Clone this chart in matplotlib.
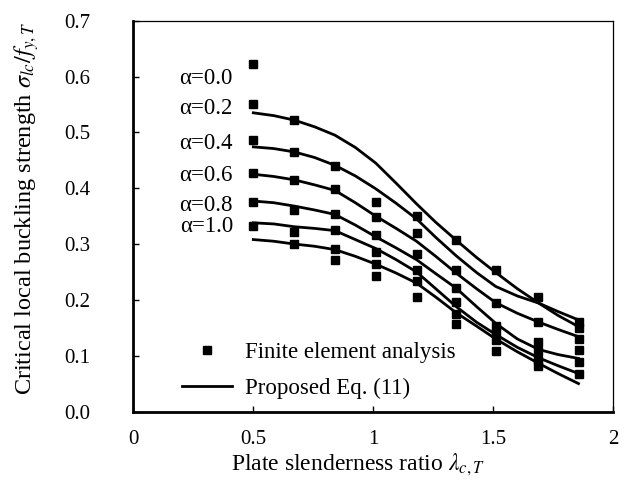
"""Critical local buckling strength vs plate slenderness ratio."""

import matplotlib

matplotlib.use("Agg")
import matplotlib.pyplot as plt

# FEA points (columns = slenderness values, rows sorted top to bottom)
x_fea = [0.50, 0.67, 0.84, 1.01, 1.18, 1.345, 1.51, 1.685, 1.855]
fea_rows = [
    [0.622, 0.522, 0.440, 0.375, 0.350, 0.307, 0.253, 0.205, 0.161],
    [0.551, 0.465, 0.398, 0.348, 0.319, 0.253, 0.194, 0.160, 0.149],
    [0.486, 0.415, 0.354, 0.316, 0.283, 0.222, 0.154, 0.125, 0.130],
    [0.428, 0.361, 0.325, 0.286, 0.253, 0.197, 0.140, 0.108, 0.110],
    [0.375, 0.322, 0.291, 0.265, 0.234, 0.175, 0.128, 0.092, 0.089],
    [0.333, 0.300, 0.271, 0.243, 0.205, 0.157, 0.109, 0.082, 0.067],
]

# Proposed Eq. (11) curves
x_eq = [0.50, 0.585, 0.67, 0.755, 0.84, 0.925, 1.01, 1.095, 1.18,
        1.26, 1.345, 1.43, 1.51, 1.60, 1.69, 1.77, 1.855]
eq_curves = [
    [0.535, 0.530, 0.522, 0.510, 0.495, 0.473, 0.445, 0.409, 0.372,
     0.339, 0.307, 0.276, 0.249, 0.220, 0.194, 0.172, 0.152],
    [0.474, 0.471, 0.465, 0.455, 0.441, 0.422, 0.399, 0.373, 0.345,
     0.312, 0.279, 0.249, 0.224, 0.207, 0.194, 0.179, 0.164],
    [0.425, 0.421, 0.415, 0.406, 0.396, 0.374, 0.350, 0.328, 0.305,
     0.278, 0.248, 0.220, 0.195, 0.176, 0.160, 0.147, 0.134],
    [0.377, 0.374, 0.368, 0.361, 0.353, 0.334, 0.313, 0.293, 0.272,
     0.247, 0.221, 0.188, 0.158, 0.130, 0.111, 0.102, 0.095],
    [0.338, 0.336, 0.331, 0.328, 0.324, 0.308, 0.292, 0.272, 0.250,
     0.220, 0.188, 0.160, 0.138, 0.115, 0.096, 0.082, 0.068],
    [0.308, 0.305, 0.300, 0.296, 0.290, 0.278, 0.264, 0.248, 0.230,
     0.205, 0.177, 0.153, 0.130, 0.107, 0.086, 0.068, 0.050],
]

alpha_labels = ["α=0.0", "α=0.2", "α=0.4", "α=0.6", "α=0.8", "α=1.0"]
alpha_label_y = [0.597, 0.542, 0.480, 0.423, 0.369, 0.331]

x_ticks = [0, 0.5, 1, 1.5, 2]
x_tick_labels = ["0", "0.5", "1", "1.5", "2"]
y_ticks = [0.0, 0.1, 0.2, 0.3, 0.4, 0.5, 0.6, 0.7]

plt.rcParams["font.family"] = ["Liberation Serif", "DejaVu Serif"]
plt.rcParams["mathtext.fontset"] = "stix"

fig = plt.figure(figsize=(6.25, 5.01), dpi=100)
ax = fig.add_axes([0.2133, 0.1786, 0.768, 0.7801])

for i, row in enumerate(fea_rows):
    ax.plot(x_fea, row, linestyle="none", marker="s", markersize=6,
            color="black", label="Finite element analysis" if i == 0 else None)

for i, curve in enumerate(eq_curves):
    ax.plot(x_eq, curve, color="black", linewidth=2.0,
            label="Proposed Eq. (11)" if i == 0 else None)

for text, yv in zip(alpha_labels, alpha_label_y):
    ax.text(0.415, yv, text, ha="right", va="center", fontsize=16.5)

ax.set_xlim(0, 2)
ax.set_ylim(0, 0.7)
ax.set_xticks(x_ticks)
ax.set_xticklabels(x_tick_labels)
ax.set_yticks(y_ticks)
ax.set_yticklabels([f"{v:.1f}" for v in y_ticks])
ax.tick_params(axis="both", direction="in", length=4.5, width=1.0,
               labelsize=15)
ax.tick_params(axis="x", pad=13)
ax.tick_params(axis="y", pad=31)

for side in ["left", "bottom"]:
    ax.spines[side].set_linewidth(2.0)
for side in ["top", "right"]:
    ax.spines[side].set_linewidth(0.9)

ax.set_xlabel(r"Plate slenderness ratio $\lambda_{c,T}$", fontsize=17)
ax.set_ylabel(r"Critical local buckling strength $\sigma_{lc}/f_{y,T}$",
              fontsize=17.5)
ax.xaxis.set_label_coords(0.468, -0.103)
ax.yaxis.set_label_coords(-0.192, 0.52)

ax.legend(loc="upper left", bbox_to_anchor=(0.101, 0.179), frameon=False,
          fontsize=16.5, handlelength=2.2, handletextpad=0.57,
          labelspacing=0.68, borderpad=0, borderaxespad=0, numpoints=1)

fig.savefig("out.png", dpi=100)
